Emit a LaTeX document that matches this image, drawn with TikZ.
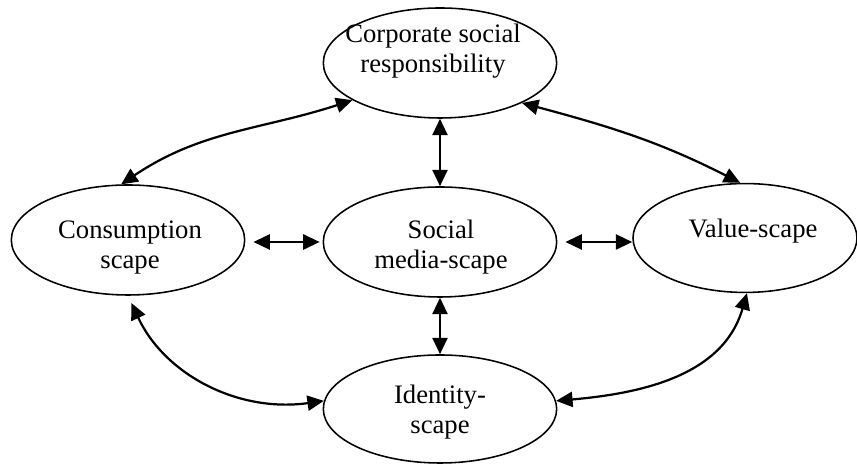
\documentclass[tikz,border=0pt]{standalone}
\usepackage{fontspec}
\setmainfont{Liberation Serif}
\usetikzlibrary{shapes.geometric,arrows.meta}
\tikzset{scape/.style={ellipse, draw, line width=0.7pt, minimum width=105pt, minimum height=49.5pt, inner sep=0pt},
  words/.style={align=center, inner sep=0pt, font=\fontsize{12pt}{13.5pt}\selectfont},
  link/.style={<->, >={Triangle[length=7.4pt,width=6.8pt]}, line width=1pt}}

\begin{document}
\begin{tikzpicture}[x=0.45pt,y=0.45pt]
  \useasboundingbox (0,0) rectangle (857,467);
  \node[scape] (csr) at (440,404) {};
  \node[scape] (cons) at (128,227) {};
  \node[scape] (social) at (440,225) {};
  \node[scape, minimum width=100.8pt, minimum height=49pt] (value) at (745,229) {};
  \node[scape, minimum height=48.6pt] (identity) at (440,58) {};
  \node[words] (csrtext) at (433,416) {Corporate social\\responsibility};
  \node[words] (constext) at (130,219.5) {Consumption\\scape};
  \node[words] (socialtext) at (441,220) {Social\\media-scape};
  \node[words] (valuetext) at (753,236) {Value-scape};
  \node[words] (identitytext) at (440,55) {Identity-\\scape};
  \draw[link] (csr.south) -- (social.north);
  \draw[link] (social.south) -- (identity.north);
  \draw[link, shorten <=3.6pt, shorten >=1.3pt] (cons.east |- social.west) -- (social.west);
  \draw[link, shorten <=3.6pt] (social.east) -- (social.east -| value.west);
  \draw[link] (csr.203) to[out=198,in=34] (cons.97);
  \draw[link] (csr.334) to[out=-15,in=153] (value.95);
  \draw[link, shorten <=3.6pt] (cons.270) to[out=-65,in=188] (identity.176);
  \draw[link] (identity.4) to[out=5,in=-106] (value.272);
\end{tikzpicture}
\end{document}
